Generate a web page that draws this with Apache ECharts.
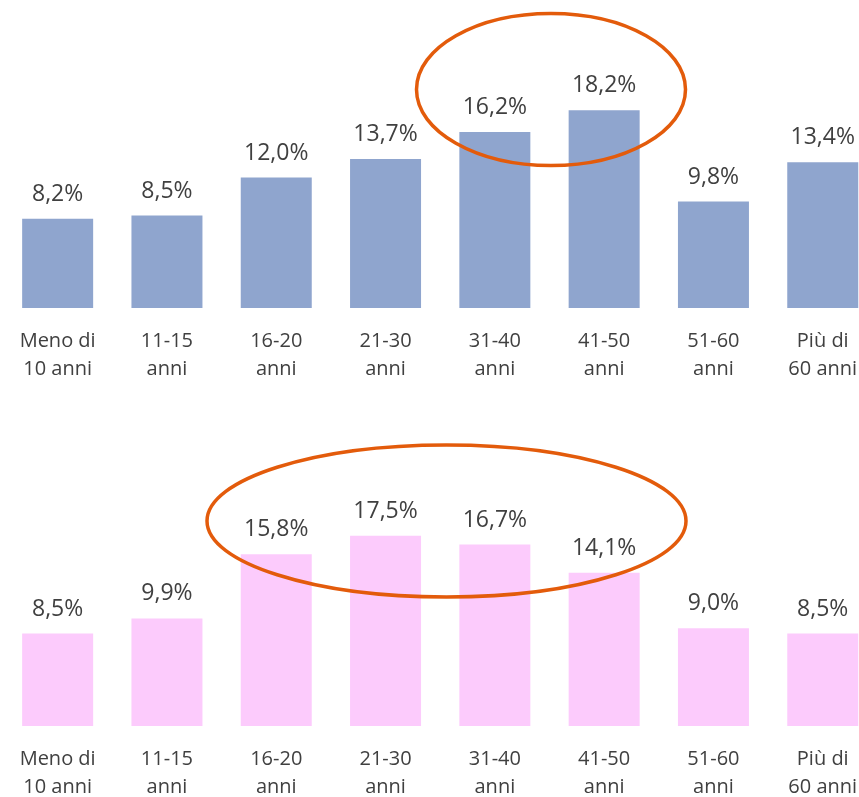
<!DOCTYPE html>
<html>
<head>
<meta charset="utf-8">
<script src="https://cdn.jsdelivr.net/npm/echarts@6/dist/echarts.min.js"></script>
<style>
  html, body { margin: 0; padding: 0; background: #fff; }
  #chart { width: 859px; height: 797px; }
</style>
</head>
<body>
<div id="chart"></div>
<script>
const categories = ['Meno di\n10 anni', '11-15\nanni', '16-20\nanni', '21-30\nanni',
    '31-40\nanni', '41-50\nanni', '51-60\nanni', 'Più di\n60 anni'];
const topValues = [8.2, 8.5, 12.0, 13.7, 16.2, 18.2, 9.8, 13.4];
const bottomValues = [8.5, 9.9, 15.8, 17.5, 16.7, 14.1, 9.0, 8.5];

const textColor = '#404040';
const font = '"Open Sans", sans-serif';

const chart = echarts.init(document.getElementById('chart'));

function pct(p) {
    return p.value.toFixed(1).replace('.', ',') + '%';
}

function xAxis(gridIndex) {
    return {
        type: 'category',
        gridIndex: gridIndex,
        data: categories,
        axisLine: { show: false },
        axisTick: { show: false },
        axisLabel: {
            color: textColor,
            fontFamily: font,
            fontSize: 20,
            lineHeight: 28,
            margin: 19,
            interval: 0
        }
    };
}

function yAxis(gridIndex) {
    return {
        type: 'value',
        gridIndex: gridIndex,
        min: 0,
        max: 20,
        show: false,
        splitLine: { show: false }
    };
}

function barSeries(idx, values, color) {
    return {
        type: 'bar',
        xAxisIndex: idx,
        yAxisIndex: idx,
        data: values,
        barWidth: 71,
        itemStyle: { color: color },
        label: {
            show: true,
            position: 'top',
            distance: 13,
            color: textColor,
            fontFamily: font,
            fontSize: 23,
            formatter: pct
        }
    };
}

const option = {
    animation: false,
    backgroundColor: '#ffffff',
    grid: [
        { left: 3, top: 90.6, width: 874.4, height: 217.4, outerBoundsMode: 'none' },
        { left: 3, top: 508.6, width: 874.4, height: 217.4, outerBoundsMode: 'none' }
    ],
    xAxis: [xAxis(0), xAxis(1)],
    yAxis: [yAxis(0), yAxis(1)],
    series: [
        barSeries(0, topValues, '#8FA5CE'),
        barSeries(1, bottomValues, '#FCCBFC')
    ],
    graphic: [
        {
            type: 'ellipse',
            shape: { cx: 551, cy: 89.5, rx: 134.5, ry: 76 },
            style: { fill: 'none', stroke: '#E35B0B', lineWidth: 3.5 },
            z: 100
        },
        {
            type: 'ellipse',
            shape: { cx: 446.5, cy: 521, rx: 239.5, ry: 76 },
            style: { fill: 'none', stroke: '#E35B0B', lineWidth: 3.5 },
            z: 100
        }
    ]
};

chart.setOption(option);
</script>
</body>
</html>
